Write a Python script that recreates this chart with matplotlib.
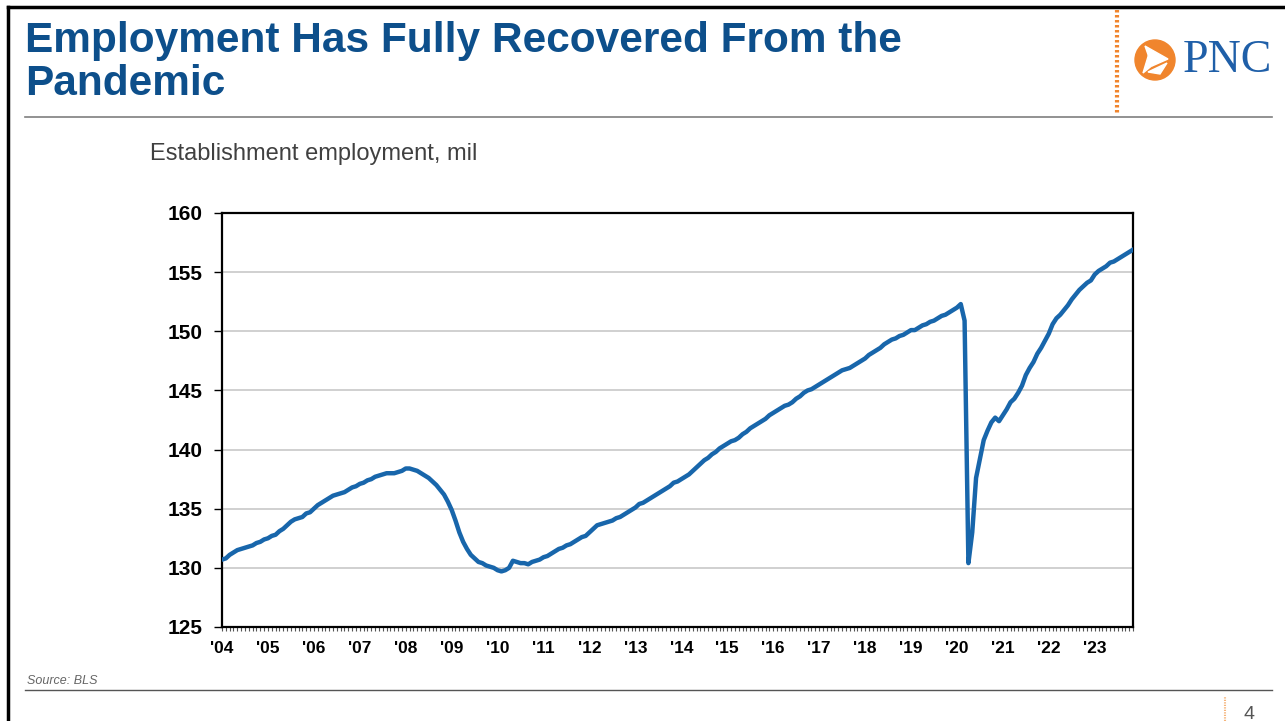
import numpy as np
import matplotlib.pyplot as plt
from matplotlib.patches import Circle, Polygon
from matplotlib.lines import Line2D

plt.rcParams['font.family'] = ['Liberation Sans', 'DejaVu Sans']

# Establishment employment (BLS), millions, monthly Jan 2004 - Nov 2023
y2004 = [130.7, 130.8, 131.1, 131.3, 131.5, 131.6, 131.7, 131.8, 131.9, 132.1, 132.2, 132.4]
y2005 = [132.5, 132.7, 132.8, 133.1, 133.3, 133.6, 133.9, 134.1, 134.2, 134.3, 134.6, 134.7]
y2006 = [135.0, 135.3, 135.5, 135.7, 135.9, 136.1, 136.2, 136.3, 136.4, 136.6, 136.8, 136.9]
y2007 = [137.1, 137.2, 137.4, 137.5, 137.7, 137.8, 137.9, 138.0, 138.0, 138.0, 138.1, 138.2]
y2008 = [138.4, 138.4, 138.3, 138.2, 138.0, 137.8, 137.6, 137.3, 137.0, 136.6, 136.2, 135.6]
y2009 = [134.9, 134.0, 133.0, 132.2, 131.6, 131.1, 130.8, 130.5, 130.4, 130.2, 130.1, 130.0]
y2010 = [129.8, 129.7, 129.8, 130.0, 130.6, 130.5, 130.4, 130.4, 130.3, 130.5, 130.6, 130.7]
y2011 = [130.9, 131.0, 131.2, 131.4, 131.6, 131.7, 131.9, 132.0, 132.2, 132.4, 132.6, 132.7]
y2012 = [133.0, 133.3, 133.6, 133.7, 133.8, 133.9, 134.0, 134.2, 134.3, 134.5, 134.7, 134.9]
y2013 = [135.1, 135.4, 135.5, 135.7, 135.9, 136.1, 136.3, 136.5, 136.7, 136.9, 137.2, 137.3]
y2014 = [137.5, 137.7, 137.9, 138.2, 138.5, 138.8, 139.1, 139.3, 139.6, 139.8, 140.1, 140.3]
y2015 = [140.5, 140.7, 140.8, 141.0, 141.3, 141.5, 141.8, 142.0, 142.2, 142.4, 142.6, 142.9]
y2016 = [143.1, 143.3, 143.5, 143.7, 143.8, 144.0, 144.3, 144.5, 144.8, 145.0, 145.1, 145.3]
y2017 = [145.5, 145.7, 145.9, 146.1, 146.3, 146.5, 146.7, 146.8, 146.9, 147.1, 147.3, 147.5]
y2018 = [147.7, 148.0, 148.2, 148.4, 148.6, 148.9, 149.1, 149.3, 149.4, 149.6, 149.7, 149.9]
y2019 = [150.1, 150.1, 150.3, 150.5, 150.6, 150.8, 150.9, 151.1, 151.3, 151.4, 151.6, 151.8]
y2020 = [152.0, 152.3, 150.9, 130.4, 133.0, 137.6, 139.2, 140.8, 141.6, 142.3, 142.7, 142.4]
y2021 = [142.9, 143.4, 144.0, 144.3, 144.8, 145.4, 146.3, 146.9, 147.4, 148.1, 148.6, 149.2]
y2022 = [149.8, 150.6, 151.1, 151.4, 151.8, 152.2, 152.7, 153.1, 153.5, 153.8, 154.1, 154.3]
y2023 = [154.8, 155.1, 155.3, 155.5, 155.8, 155.9, 156.1, 156.3, 156.5, 156.7, 156.9]

years = list(range(2004, 2024))
year_labels = ["'%02d" % (y % 100) for y in years]

employment = np.array(y2004 + y2005 + y2006 + y2007 + y2008 + y2009 + y2010 + y2011 + y2012 + y2013
                      + y2014 + y2015 + y2016 + y2017 + y2018 + y2019 + y2020 + y2021 + y2022 + y2023)
t = 2004 + np.arange(len(employment)) / 12.0

blue_title = '#0d4f8b'
line_blue = '#1866ab'
orange = '#f0852d'

fig = plt.figure(figsize=(12.85, 7.21), dpi=100)

# slide frame
fig.add_artist(Line2D([8 / 1285, 1], [1 - 7 / 721, 1 - 7 / 721], color='black', lw=2.5))
fig.add_artist(Line2D([8 / 1285, 8 / 1285], [0, 1 - 7 / 721], color='black', lw=2.5))
fig.add_artist(Line2D([25 / 1285, 1272 / 1285], [1 - 117 / 721, 1 - 117 / 721], color='#7f7f7f', lw=1.2))
fig.add_artist(Line2D([25 / 1285, 1272 / 1285], [1 - 690 / 721, 1 - 690 / 721], color='#555555', lw=1.0))
fig.add_artist(Line2D([1117 / 1285, 1117 / 1285], [1 - 10 / 721, 1 - 115 / 721], color=orange,
                      lw=3, ls=(0, (0.6, 0.6))))
fig.add_artist(Line2D([1225 / 1285, 1225 / 1285], [0, 1 - 696 / 721], color='#f5b47a',
                      lw=1.5, ls=(0, (0.6, 0.6))))

# title
fig.text(25 / 1285, 1 - 52 / 721, 'Employment Has Fully Recovered From the', fontsize=30.5,
         fontweight='bold', color=blue_title, va='baseline')
fig.text(25 / 1285, 1 - 95 / 721, 'Pandemic', fontsize=30.5,
         fontweight='bold', color=blue_title, va='baseline')

# PNC logo
lax = fig.add_axes([1128 / 1285, 1 - 90 / 721, 150 / 1285, 60 / 721])
lax.set_xlim(0, 150)
lax.set_ylim(0, 60)
lax.set_aspect('equal')
lax.axis('off')
lax.add_patch(Circle((27, 30), 20, color=orange))
lax.add_patch(Polygon([[17, 44], [40, 31], [24, 24]], closed=True, color='white'))
lax.add_patch(Polygon([[15, 17], [22, 40], [26, 26]], closed=True, color='white'))
lax.add_patch(Polygon([[20, 18], [39, 27], [32, 16]], closed=True, color='white'))
lax.text(55, 29, 'PNC', fontsize=33, color='#1f5fa8', family='Liberation Serif', va='center')

# subtitle
fig.text(150 / 1285, 1 - 154 / 721, 'Establishment employment, mil', fontsize=17,
         color='#404040', va='center')

# chart
ax = fig.add_axes([222 / 1285, 1 - 627 / 721, 911 / 1285, 414 / 721])
ax.plot(t, employment, color=line_blue, lw=3.2, solid_joinstyle='round', zorder=3)
ax.set_xlim(2004, 2004 + 238 / 12)
ax.set_ylim(125, 160)
ax.set_yticks(range(125, 161, 5))
ax.yaxis.grid(True, color='#c8c8c8', lw=1.2)
ax.set_axisbelow(True)
ax.set_xticks(years)
ax.set_xticklabels(year_labels)
ax.set_xticks(2004 + np.arange(0, 239) / 12.0, minor=True)
ax.tick_params(axis='x', which='both', length=3, width=0.8, direction='out', pad=7,
               labelsize=12.5, color='#555555')
ax.tick_params(axis='y', length=6, width=1, pad=8, labelsize=15)
for lab in ax.get_xticklabels() + ax.get_yticklabels():
    lab.set_fontweight('bold')
for s in ax.spines.values():
    s.set_linewidth(1.6)
    s.set_color('black')

# footer
fig.text(27 / 1285, 1 - 681 / 721, 'Source: BLS', fontsize=9, style='italic',
         color='#666666', va='center')
fig.text(1244 / 1285, 1 - 706 / 721, '4', fontsize=14, color='#555555', va='top')

fig.savefig('out.png', dpi=100)
